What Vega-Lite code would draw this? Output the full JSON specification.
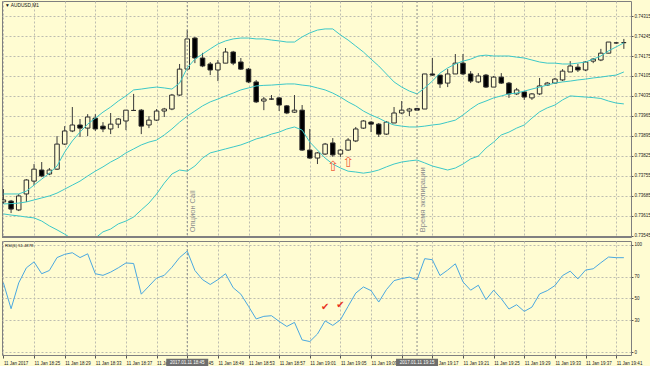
{
"$schema": "https://vega.github.io/schema/vega-lite/v6.json",
"background": "#FFFCD2",
"padding": 0,
"spacing": 1,
"config": {
 "view": {"stroke": "#7F7F7F", "strokeWidth": 1},
 "font": "Liberation Sans",
 "scale": {"continuousPadding": 0},
 "axis": {"gridColor": "#BDBDB0", "gridDash": [2, 2], "gridWidth": 1, "labelFontSize": 4.5, "labelColor": "#222222", "tickColor": "#555555", "tickSize": 2, "domain": false, "labelPadding": 1, "labelOverlap": false, "tickCount": 200}
},
"resolve": {"scale": {"x": "independent", "y": "independent"}},
"datasets": {
 "bars": [
  {"t":"2017-01-11T18:21:00","o":0.73663,"h":0.73708,"l":0.73656,"c":0.73670,"up":0.73691,"mid":0.73656,"lo":0.73621,"rsi":64.5},
  {"t":"2017-01-11T18:22:00","o":0.73666,"h":0.73670,"l":0.73624,"c":0.73638,"up":0.73691,"mid":0.73657,"lo":0.73617,"rsi":40.5},
  {"t":"2017-01-11T18:23:00","o":0.73635,"h":0.73691,"l":0.73631,"c":0.73684,"up":0.73691,"mid":0.73659,"lo":0.73614,"rsi":64.5},
  {"t":"2017-01-11T18:24:00","o":0.73691,"h":0.73743,"l":0.73663,"c":0.73740,"up":0.73701,"mid":0.73663,"lo":0.73610,"rsi":78.5},
  {"t":"2017-01-11T18:25:00","o":0.73736,"h":0.73796,"l":0.73722,"c":0.73778,"up":0.73722,"mid":0.73670,"lo":0.73607,"rsi":84},
  {"t":"2017-01-11T18:26:00","o":0.73775,"h":0.73803,"l":0.73750,"c":0.73754,"up":0.73743,"mid":0.73677,"lo":0.73596,"rsi":73},
  {"t":"2017-01-11T18:27:00","o":0.73761,"h":0.73782,"l":0.73757,"c":0.73775,"up":0.73764,"mid":0.73684,"lo":0.73579,"rsi":76},
  {"t":"2017-01-11T18:28:00","o":0.73778,"h":0.73894,"l":0.73775,"c":0.73866,"up":0.73789,"mid":0.73694,"lo":0.73565,"rsi":88},
  {"t":"2017-01-11T18:29:00","o":0.73866,"h":0.73929,"l":0.73863,"c":0.73912,"up":0.73838,"mid":0.73708,"lo":0.73550,"rsi":91},
  {"t":"2017-01-11T18:30:00","o":0.73912,"h":0.73996,"l":0.73908,"c":0.73933,"up":0.73877,"mid":0.73722,"lo":0.73533,"rsi":92.5},
  {"t":"2017-01-11T18:31:00","o":0.73933,"h":0.73954,"l":0.73891,"c":0.73922,"up":0.73908,"mid":0.73736,"lo":0.73522,"rsi":88},
  {"t":"2017-01-11T18:32:00","o":0.73922,"h":0.73971,"l":0.73894,"c":0.73961,"up":0.73936,"mid":0.73754,"lo":0.73526,"rsi":91.5},
  {"t":"2017-01-11T18:33:00","o":0.73957,"h":0.73971,"l":0.73912,"c":0.73919,"up":0.73957,"mid":0.73771,"lo":0.73536,"rsi":73},
  {"t":"2017-01-11T18:34:00","o":0.73929,"h":0.73943,"l":0.73908,"c":0.73919,"up":0.73978,"mid":0.73786,"lo":0.73558,"rsi":71.5},
  {"t":"2017-01-11T18:35:00","o":0.73919,"h":0.73975,"l":0.73901,"c":0.73936,"up":0.73996,"mid":0.73803,"lo":0.73568,"rsi":74.5},
  {"t":"2017-01-11T18:36:00","o":0.73936,"h":0.73957,"l":0.73922,"c":0.73954,"up":0.74017,"mid":0.73817,"lo":0.73586,"rsi":78.5},
  {"t":"2017-01-11T18:37:00","o":0.73947,"h":0.73985,"l":0.73915,"c":0.73985,"up":0.74035,"mid":0.73835,"lo":0.73596,"rsi":83},
  {"t":"2017-01-11T18:38:00","o":0.73984,"h":0.74042,"l":0.73982,"c":0.73984,"up":0.74056,"mid":0.73849,"lo":0.73610,"rsi":82.5},
  {"t":"2017-01-11T18:39:00","o":0.73985,"h":0.73989,"l":0.73901,"c":0.73929,"up":0.74059,"mid":0.73863,"lo":0.73635,"rsi":54},
  {"t":"2017-01-11T18:40:00","o":0.73933,"h":0.73964,"l":0.73922,"c":0.73950,"up":0.74063,"mid":0.73873,"lo":0.73659,"rsi":61.5},
  {"t":"2017-01-11T18:41:00","o":0.73950,"h":0.73989,"l":0.73947,"c":0.73982,"up":0.74066,"mid":0.73880,"lo":0.73691,"rsi":69},
  {"t":"2017-01-11T18:42:00","o":0.73982,"h":0.73993,"l":0.73961,"c":0.73989,"up":0.74063,"mid":0.73898,"lo":0.73729,"rsi":71.5},
  {"t":"2017-01-11T18:43:00","o":0.73989,"h":0.74042,"l":0.73985,"c":0.74038,"up":0.74059,"mid":0.73919,"lo":0.73761,"rsi":79},
  {"t":"2017-01-11T18:44:00","o":0.74038,"h":0.74147,"l":0.74035,"c":0.74129,"up":0.74080,"mid":0.73943,"lo":0.73775,"rsi":88},
  {"t":"2017-01-11T18:45:00","o":0.74129,"h":0.74266,"l":0.74129,"c":0.74235,"up":0.74133,"mid":0.73964,"lo":0.73771,"rsi":94},
  {"t":"2017-01-11T18:46:00","o":0.74238,"h":0.74242,"l":0.74150,"c":0.74168,"up":0.74164,"mid":0.73982,"lo":0.73789,"rsi":76},
  {"t":"2017-01-11T18:47:00","o":0.74168,"h":0.74186,"l":0.74136,"c":0.74140,"up":0.74182,"mid":0.74000,"lo":0.73817,"rsi":67.5},
  {"t":"2017-01-11T18:48:00","o":0.74147,"h":0.74154,"l":0.74108,"c":0.74126,"up":0.74200,"mid":0.74014,"lo":0.73835,"rsi":63},
  {"t":"2017-01-11T18:49:00","o":0.74126,"h":0.74161,"l":0.74087,"c":0.74150,"up":0.74217,"mid":0.74024,"lo":0.73842,"rsi":67.5},
  {"t":"2017-01-11T18:50:00","o":0.74150,"h":0.74203,"l":0.74150,"c":0.74189,"up":0.74228,"mid":0.74035,"lo":0.73849,"rsi":73},
  {"t":"2017-01-11T18:51:00","o":0.74189,"h":0.74193,"l":0.74143,"c":0.74150,"up":0.74235,"mid":0.74045,"lo":0.73856,"rsi":60},
  {"t":"2017-01-11T18:52:00","o":0.74154,"h":0.74168,"l":0.74126,"c":0.74129,"up":0.74238,"mid":0.74056,"lo":0.73863,"rsi":54},
  {"t":"2017-01-11T18:53:00","o":0.74129,"h":0.74133,"l":0.74080,"c":0.74084,"up":0.74238,"mid":0.74063,"lo":0.73873,"rsi":42.7},
  {"t":"2017-01-11T18:54:00","o":0.74084,"h":0.74091,"l":0.74010,"c":0.74014,"up":0.74235,"mid":0.74070,"lo":0.73884,"rsi":31},
  {"t":"2017-01-11T18:55:00","o":0.74017,"h":0.74031,"l":0.73985,"c":0.74024,"up":0.74235,"mid":0.74072,"lo":0.73891,"rsi":33.4},
  {"t":"2017-01-11T18:56:00","o":0.74024,"h":0.74038,"l":0.74021,"c":0.74024,"up":0.74231,"mid":0.74073,"lo":0.73901,"rsi":34},
  {"t":"2017-01-11T18:57:00","o":0.74028,"h":0.74031,"l":0.73982,"c":0.74003,"up":0.74228,"mid":0.74075,"lo":0.73908,"rsi":28.7},
  {"t":"2017-01-11T18:58:00","o":0.74000,"h":0.74003,"l":0.73971,"c":0.73975,"up":0.74224,"mid":0.74077,"lo":0.73919,"rsi":24},
  {"t":"2017-01-11T18:59:00","o":0.73978,"h":0.74038,"l":0.73975,"c":0.73985,"up":0.74224,"mid":0.74077,"lo":0.73926,"rsi":27.8},
  {"t":"2017-01-11T19:00:00","o":0.73985,"h":0.74003,"l":0.73842,"c":0.73845,"up":0.74242,"mid":0.74073,"lo":0.73915,"rsi":11.5},
  {"t":"2017-01-11T19:01:00","o":0.73845,"h":0.73919,"l":0.73814,"c":0.73817,"up":0.74256,"mid":0.74070,"lo":0.73873,"rsi":10},
  {"t":"2017-01-11T19:02:00","o":0.73817,"h":0.73838,"l":0.73796,"c":0.73835,"up":0.74266,"mid":0.74063,"lo":0.73845,"rsi":17},
  {"t":"2017-01-11T19:03:00","o":0.73831,"h":0.73870,"l":0.73828,"c":0.73866,"up":0.74270,"mid":0.74056,"lo":0.73817,"rsi":29.2},
  {"t":"2017-01-11T19:04:00","o":0.73870,"h":0.73887,"l":0.73821,"c":0.73828,"up":0.74270,"mid":0.74045,"lo":0.73796,"rsi":25},
  {"t":"2017-01-11T19:05:00","o":0.73831,"h":0.73849,"l":0.73821,"c":0.73845,"up":0.74249,"mid":0.74031,"lo":0.73782,"rsi":30.2},
  {"t":"2017-01-11T19:06:00","o":0.73845,"h":0.73887,"l":0.73842,"c":0.73880,"up":0.74231,"mid":0.74014,"lo":0.73771,"rsi":42.7},
  {"t":"2017-01-11T19:07:00","o":0.73877,"h":0.73926,"l":0.73873,"c":0.73919,"up":0.74210,"mid":0.74000,"lo":0.73768,"rsi":55},
  {"t":"2017-01-11T19:08:00","o":0.73922,"h":0.73950,"l":0.73919,"c":0.73947,"up":0.74189,"mid":0.73982,"lo":0.73764,"rsi":60.7},
  {"t":"2017-01-11T19:09:00","o":0.73943,"h":0.73947,"l":0.73908,"c":0.73936,"up":0.74164,"mid":0.73968,"lo":0.73768,"rsi":57.3},
  {"t":"2017-01-11T19:10:00","o":0.73936,"h":0.73940,"l":0.73891,"c":0.73901,"up":0.74140,"mid":0.73957,"lo":0.73775,"rsi":46.7},
  {"t":"2017-01-11T19:11:00","o":0.73901,"h":0.73947,"l":0.73898,"c":0.73943,"up":0.74112,"mid":0.73943,"lo":0.73786,"rsi":58.2},
  {"t":"2017-01-11T19:12:00","o":0.73940,"h":0.73996,"l":0.73940,"c":0.73975,"up":0.74084,"mid":0.73933,"lo":0.73796,"rsi":66.6},
  {"t":"2017-01-11T19:13:00","o":0.73975,"h":0.74017,"l":0.73971,"c":0.73985,"up":0.74066,"mid":0.73929,"lo":0.73803,"rsi":68.5},
  {"t":"2017-01-11T19:14:00","o":0.73982,"h":0.73993,"l":0.73964,"c":0.73989,"up":0.74052,"mid":0.73926,"lo":0.73807,"rsi":69.8},
  {"t":"2017-01-11T19:15:00","o":0.73991,"h":0.73993,"l":0.73982,"c":0.73985,"up":0.74042,"mid":0.73926,"lo":0.73810,"rsi":67.3},
  {"t":"2017-01-11T19:16:00","o":0.73989,"h":0.74112,"l":0.73989,"c":0.74112,"up":0.74063,"mid":0.73929,"lo":0.73800,"rsi":87},
  {"t":"2017-01-11T19:17:00","o":0.74112,"h":0.74168,"l":0.74105,"c":0.74108,"up":0.74087,"mid":0.73933,"lo":0.73789,"rsi":86},
  {"t":"2017-01-11T19:18:00","o":0.74108,"h":0.74108,"l":0.74063,"c":0.74077,"up":0.74115,"mid":0.73936,"lo":0.73782,"rsi":71.3},
  {"t":"2017-01-11T19:19:00","o":0.74080,"h":0.74129,"l":0.74066,"c":0.74112,"up":0.74133,"mid":0.73943,"lo":0.73775,"rsi":76.4},
  {"t":"2017-01-11T19:20:00","o":0.74112,"h":0.74182,"l":0.74112,"c":0.74150,"up":0.74147,"mid":0.73950,"lo":0.73782,"rsi":82.2},
  {"t":"2017-01-11T19:21:00","o":0.74150,"h":0.74182,"l":0.74108,"c":0.74112,"up":0.74157,"mid":0.73968,"lo":0.73796,"rsi":65.4},
  {"t":"2017-01-11T19:22:00","o":0.74112,"h":0.74122,"l":0.74080,"c":0.74087,"up":0.74164,"mid":0.73989,"lo":0.73814,"rsi":57.7},
  {"t":"2017-01-11T19:23:00","o":0.74084,"h":0.74115,"l":0.74080,"c":0.74105,"up":0.74175,"mid":0.74007,"lo":0.73824,"rsi":62.3},
  {"t":"2017-01-11T19:24:00","o":0.74108,"h":0.74112,"l":0.74063,"c":0.74066,"up":0.74178,"mid":0.74017,"lo":0.73852,"rsi":48.9},
  {"t":"2017-01-11T19:25:00","o":0.74066,"h":0.74105,"l":0.74066,"c":0.74101,"up":0.74175,"mid":0.74028,"lo":0.73873,"rsi":57.7},
  {"t":"2017-01-11T19:26:00","o":0.74101,"h":0.74115,"l":0.74077,"c":0.74080,"up":0.74175,"mid":0.74035,"lo":0.73898,"rsi":49.8},
  {"t":"2017-01-11T19:27:00","o":0.74080,"h":0.74084,"l":0.74028,"c":0.74042,"up":0.74175,"mid":0.74042,"lo":0.73908,"rsi":40.2},
  {"t":"2017-01-11T19:28:00","o":0.74042,"h":0.74063,"l":0.74038,"c":0.74056,"up":0.74171,"mid":0.74045,"lo":0.73922,"rsi":44.2},
  {"t":"2017-01-11T19:29:00","o":0.74049,"h":0.74052,"l":0.74021,"c":0.74031,"up":0.74168,"mid":0.74052,"lo":0.73933,"rsi":38},
  {"t":"2017-01-11T19:30:00","o":0.74028,"h":0.74045,"l":0.74021,"c":0.74042,"up":0.74161,"mid":0.74059,"lo":0.73957,"rsi":42},
  {"t":"2017-01-11T19:31:00","o":0.74042,"h":0.74098,"l":0.74038,"c":0.74070,"up":0.74154,"mid":0.74066,"lo":0.73979,"rsi":54.2},
  {"t":"2017-01-11T19:32:00","o":0.74073,"h":0.74084,"l":0.74070,"c":0.74080,"up":0.74150,"mid":0.74073,"lo":0.73993,"rsi":57.3},
  {"t":"2017-01-11T19:33:00","o":0.74080,"h":0.74098,"l":0.74077,"c":0.74094,"up":0.74150,"mid":0.74080,"lo":0.74003,"rsi":62},
  {"t":"2017-01-11T19:34:00","o":0.74091,"h":0.74129,"l":0.74087,"c":0.74122,"up":0.74147,"mid":0.74084,"lo":0.74021,"rsi":71.3},
  {"t":"2017-01-11T19:35:00","o":0.74119,"h":0.74157,"l":0.74119,"c":0.74140,"up":0.74147,"mid":0.74087,"lo":0.74035,"rsi":75.4},
  {"t":"2017-01-11T19:36:00","o":0.74136,"h":0.74147,"l":0.74119,"c":0.74126,"up":0.74150,"mid":0.74091,"lo":0.74033,"rsi":68.2},
  {"t":"2017-01-11T19:37:00","o":0.74126,"h":0.74157,"l":0.74122,"c":0.74154,"up":0.74154,"mid":0.74094,"lo":0.74031,"rsi":76.4},
  {"t":"2017-01-11T19:38:00","o":0.74157,"h":0.74168,"l":0.74150,"c":0.74164,"up":0.74164,"mid":0.74098,"lo":0.74029,"rsi":77.6},
  {"t":"2017-01-11T19:39:00","o":0.74161,"h":0.74200,"l":0.74157,"c":0.74185,"up":0.74175,"mid":0.74101,"lo":0.74026,"rsi":83.2},
  {"t":"2017-01-11T19:40:00","o":0.74185,"h":0.74224,"l":0.74185,"c":0.74224,"up":0.74193,"mid":0.74105,"lo":0.74017,"rsi":88.5},
  {"t":"2017-01-11T19:41:00","o":0.74221,"h":0.74224,"l":0.74217,"c":0.74221,"up":0.74207,"mid":0.74108,"lo":0.74010,"rsi":87.9},
  {"t":"2017-01-11T19:42:00","o":0.74222,"h":0.74235,"l":0.74200,"c":0.74222,"up":0.74221,"mid":0.74119,"lo":0.74007,"rsi":87.9}
 ],
 "vlines": [
  {"t":"2017-01-11T18:45:00","label":"Опцион Call","stamp":"2017.01.11 18:45"},
  {"t":"2017-01-11T19:15:00","label":"Время экспирации","stamp":"2017.01.11 19:15"}
 ],
 "arrows": [
  {"t":"2017-01-11T19:04:00","p":0.73786},
  {"t":"2017-01-11T19:06:00","p":0.73801}
 ],
 "checks": [
  {"t":"2017-01-11T19:03:00","v":42},
  {"t":"2017-01-11T19:05:00","v":44}
 ],
 "titles": [{"label":"▼ AUDUSD,M1","rsi":"RSI(6) 51.4878"}]
},
"vconcat": [
 {
  "width": 629,
  "height": 236,
  "layer": [
   {
    "data": {"name": "bars"},
    "mark": {"type": "rule", "color": "#3A3A3A", "strokeWidth": 1, "clip": true},
    "encoding": {
     "x": {"field": "t", "type": "temporal",
      "scale": {"padding": 0, "domain": [{"year":2017,"month":1,"date":11,"hours":18,"minutes":20,"seconds":49},{"year":2017,"month":1,"date":11,"hours":19,"minutes":42,"seconds":56}]},
      "axis": {"title": null, "labels": false, "ticks": false, "domain": false, "grid": true, "tickCount": 200,
       "values": [
        {"year":2017,"month":1,"date":11,"hours":18,"minutes":21},{"year":2017,"month":1,"date":11,"hours":18,"minutes":25},{"year":2017,"month":1,"date":11,"hours":18,"minutes":29},{"year":2017,"month":1,"date":11,"hours":18,"minutes":33},{"year":2017,"month":1,"date":11,"hours":18,"minutes":37},{"year":2017,"month":1,"date":11,"hours":18,"minutes":41},{"year":2017,"month":1,"date":11,"hours":18,"minutes":45},{"year":2017,"month":1,"date":11,"hours":18,"minutes":49},{"year":2017,"month":1,"date":11,"hours":18,"minutes":53},{"year":2017,"month":1,"date":11,"hours":18,"minutes":57},{"year":2017,"month":1,"date":11,"hours":19,"minutes":1},{"year":2017,"month":1,"date":11,"hours":19,"minutes":5},{"year":2017,"month":1,"date":11,"hours":19,"minutes":9},{"year":2017,"month":1,"date":11,"hours":19,"minutes":13},{"year":2017,"month":1,"date":11,"hours":19,"minutes":17},{"year":2017,"month":1,"date":11,"hours":19,"minutes":21},{"year":2017,"month":1,"date":11,"hours":19,"minutes":25},{"year":2017,"month":1,"date":11,"hours":19,"minutes":29},{"year":2017,"month":1,"date":11,"hours":19,"minutes":33},{"year":2017,"month":1,"date":11,"hours":19,"minutes":37},{"year":2017,"month":1,"date":11,"hours":19,"minutes":41}
       ]}},
     "y": {"field": "l", "type": "quantitative",
      "scale": {"domain": [0.7354, 0.74368], "zero": false, "nice": false},
      "axis": {"title": null, "orient": "right", "format": ".5f", "grid": true, "tickSize": 2, "labelOverlap": false, "tickCount": 200,
       "values": [0.74315, 0.74245, 0.74175, 0.74105, 0.74035, 0.73965, 0.73895, 0.73825, 0.73755, 0.73685, 0.73615, 0.73545]}},
     "y2": {"field": "h"}
    }
   },
   {
    "data": {"name": "bars"},
    "mark": {"type": "bar", "size": 4.5, "stroke": "#2E2E2E", "strokeWidth": 1, "clip": true},
    "encoding": {
     "x": {"field": "t", "type": "temporal"},
     "y": {"field": "o", "type": "quantitative"},
     "y2": {"field": "c"},
     "fill": {"condition": {"test": "datum.c < datum.o", "value": "#000000"}, "value": "#FFFCD2"}
    }
   },
   {
    "data": {"name": "bars"},
    "mark": {"type": "line", "color": "#3CC8C8", "strokeWidth": 1, "clip": true},
    "encoding": {"x": {"field": "t", "type": "temporal"}, "y": {"field": "up", "type": "quantitative"}}
   },
   {
    "data": {"name": "bars"},
    "mark": {"type": "line", "color": "#3CC8C8", "strokeWidth": 1, "clip": true},
    "encoding": {"x": {"field": "t", "type": "temporal"}, "y": {"field": "mid", "type": "quantitative"}}
   },
   {
    "data": {"name": "bars"},
    "mark": {"type": "line", "color": "#3CC8C8", "strokeWidth": 1, "clip": true},
    "encoding": {"x": {"field": "t", "type": "temporal"}, "y": {"field": "lo", "type": "quantitative"}}
   },
   {
    "data": {"name": "vlines"},
    "mark": {"type": "rule", "color": "#8C8C8C", "strokeDash": [2, 2], "strokeWidth": 1},
    "encoding": {"x": {"field": "t", "type": "temporal"}}
   },
   {
    "data": {"name": "vlines"},
    "mark": {"type": "text", "angle": 270, "align": "left", "baseline": "top", "dy": 1.5, "fontSize": 7.5, "color": "#8C8C8C"},
    "encoding": {"x": {"field": "t", "type": "temporal"}, "y": {"datum": 0.73557, "type": "quantitative"}, "text": {"field": "label"}}
   },
   {
    "data": {"name": "arrows"},
    "mark": {"type": "text", "text": "⇧", "font": "DejaVu Sans", "fontSize": 14, "color": "#F0643C", "baseline": "middle", "align": "center"},
    "encoding": {"x": {"field": "t", "type": "temporal"}, "y": {"field": "p", "type": "quantitative"}}
   },
   {
    "data": {"name": "titles"},
    "mark": {"type": "text", "align": "left", "baseline": "middle", "fontSize": 4.8, "color": "#111111"},
    "encoding": {"x": {"datum": {"year":2017,"month":1,"date":11,"hours":18,"minutes":21,"seconds":12}, "type": "temporal"}, "y": {"datum": 0.7435, "type": "quantitative"}, "text": {"field": "label"}}
   },
   {
    "data": {"name": "titles"},
    "mark": {"type": "rule", "color": "#808080", "strokeWidth": 2},
    "encoding": {"y": {"datum": 0.7354, "type": "quantitative"}}
   }
  ]
 },
 {
  "width": 629,
  "height": 114,
  "layer": [
   {
    "data": {"name": "bars"},
    "mark": {"type": "line", "color": "#4AA8E0", "strokeWidth": 1},
    "encoding": {
     "x": {"field": "t", "type": "temporal",
      "scale": {"padding": 0, "domain": [{"year":2017,"month":1,"date":11,"hours":18,"minutes":20,"seconds":49},{"year":2017,"month":1,"date":11,"hours":19,"minutes":42,"seconds":56}]},
      "axis": {"title": null, "grid": true, "domain": false, "tickSize": 3, "labelPadding": 2, "labelAlign": "left", "labelOverlap": false, "labelFlush": false, "labelBound": false, "tickCount": 200,
       "labelExpr": "timeFormat(datum.value, '%H:%M') === '18:21' ? '11 Jan 2017' : timeFormat(datum.value, '%d %b %H:%M')",
       "values": [
        {"year":2017,"month":1,"date":11,"hours":18,"minutes":21},{"year":2017,"month":1,"date":11,"hours":18,"minutes":25},{"year":2017,"month":1,"date":11,"hours":18,"minutes":29},{"year":2017,"month":1,"date":11,"hours":18,"minutes":33},{"year":2017,"month":1,"date":11,"hours":18,"minutes":37},{"year":2017,"month":1,"date":11,"hours":18,"minutes":41},{"year":2017,"month":1,"date":11,"hours":18,"minutes":45},{"year":2017,"month":1,"date":11,"hours":18,"minutes":49},{"year":2017,"month":1,"date":11,"hours":18,"minutes":53},{"year":2017,"month":1,"date":11,"hours":18,"minutes":57},{"year":2017,"month":1,"date":11,"hours":19,"minutes":1},{"year":2017,"month":1,"date":11,"hours":19,"minutes":5},{"year":2017,"month":1,"date":11,"hours":19,"minutes":9},{"year":2017,"month":1,"date":11,"hours":19,"minutes":13},{"year":2017,"month":1,"date":11,"hours":19,"minutes":17},{"year":2017,"month":1,"date":11,"hours":19,"minutes":21},{"year":2017,"month":1,"date":11,"hours":19,"minutes":25},{"year":2017,"month":1,"date":11,"hours":19,"minutes":29},{"year":2017,"month":1,"date":11,"hours":19,"minutes":33},{"year":2017,"month":1,"date":11,"hours":19,"minutes":37},{"year":2017,"month":1,"date":11,"hours":19,"minutes":41}
       ]}},
     "y": {"field": "rsi", "type": "quantitative",
      "scale": {"domain": [-2.5, 103.4], "zero": false, "nice": false},
      "axis": {"title": null, "orient": "right", "grid": true, "tickSize": 2, "labelOverlap": false, "tickCount": 200, "format": "d", "values": [0, 30, 50, 70, 100]}}
    }
   },
   {
    "data": {"name": "vlines"},
    "mark": {"type": "rule", "color": "#8C8C8C", "strokeDash": [2, 2], "strokeWidth": 1},
    "encoding": {"x": {"field": "t", "type": "temporal"}}
   },
   {
    "data": {"name": "titles"},
    "mark": {"type": "text", "align": "left", "baseline": "middle", "fontSize": 4.2, "color": "#111111"},
    "encoding": {"x": {"datum": {"year":2017,"month":1,"date":11,"hours":18,"minutes":21,"seconds":12}, "type": "temporal"}, "y": {"datum": 98.8, "type": "quantitative"}, "text": {"field": "rsi"}}
   },
   {
    "data": {"name": "checks"},
    "mark": {"type": "text", "text": "✔", "font": "DejaVu Sans", "fontSize": 10, "color": "#E8321E", "baseline": "middle", "align": "center"},
    "encoding": {"x": {"field": "t", "type": "temporal"}, "y": {"field": "v", "type": "quantitative"}}
   },
   {
    "data": {"name": "vlines"},
    "mark": {"type": "bar", "size": 42, "color": "#6E6E6E"},
    "encoding": {"x": {"field": "t", "type": "temporal"}, "y": {"datum": -5.9, "type": "quantitative"}, "y2": {"datum": -13.9}}
   },
   {
    "data": {"name": "vlines"},
    "mark": {"type": "text", "fontSize": 4.5, "color": "#FFFFFF", "baseline": "middle", "align": "center"},
    "encoding": {"x": {"field": "t", "type": "temporal"}, "y": {"datum": -9.9, "type": "quantitative"}, "text": {"field": "stamp"}}
   }
  ]
 }
]
}
